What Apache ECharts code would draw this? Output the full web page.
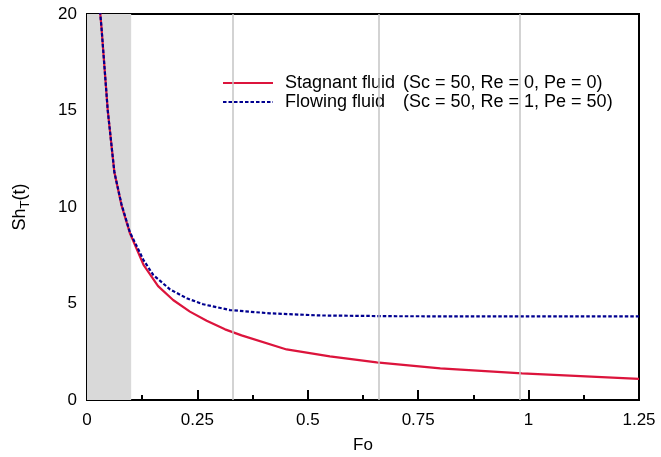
<!DOCTYPE html>
<html>
<head>
<meta charset="utf-8">
<script src="https://cdn.jsdelivr.net/npm/echarts@6/dist/echarts.min.js"></script>
<style>
  html, body { margin: 0; padding: 0; background: #fff; }
  #chart { width: 661px; height: 457px; }
</style>
</head>
<body>
<div id="chart"></div>
<script>
// Fo values and Sh_T(t)
var stagnantFo = [0.0262, 0.0328, 0.047, 0.062, 0.078, 0.097, 0.128, 0.161, 0.195, 0.233, 0.271, 0.3125, 0.35, 0.452, 0.55, 0.656, 0.80, 0.985, 1.25]
var stagnantSh = [21.0, 19.3, 15.0, 11.8, 10.1, 8.65, 7.0, 5.9, 5.18, 4.58, 4.11, 3.66, 3.35, 2.62, 2.26, 1.95, 1.64, 1.38, 1.09]
var flowingFo = [0.0262, 0.0328, 0.047, 0.062, 0.078, 0.097, 0.128, 0.150, 0.188, 0.226, 0.263, 0.324, 0.414, 0.528, 0.70, 1.0, 1.25]
var flowingSh = [21.0, 19.3, 15.0, 11.8, 10.15, 8.7, 7.25, 6.48, 5.73, 5.27, 4.96, 4.66, 4.49, 4.38, 4.34, 4.33, 4.33]
// shaded band and gray guide lines (Fo)
var bandFo = [0, 0.1]
var guideFo = [0.328, 0.657, 0.985]
var xTicks = ['0', '0.25', '0.5', '0.75', '1', '1.25']

var seriesNames = ['Stagnant fluid', 'Flowing fluid']
var seriesParams = {
  'Stagnant fluid': '(Sc = 50, Re = 0, Pe = 0)',
  'Flowing fluid': '(Sc = 50, Re = 1, Pe = 50)'
}

function zip(xs, ys) {
  var out = []
  xs.forEach(function (x, i) { out.push([x, ys[i]]) })
  return out
}

var font = 'Liberation Sans, Arial, Helvetica, sans-serif'
var myChart = echarts.init(document.getElementById('chart'), null, { renderer: 'canvas' })

var option = {
  animation: false,
  backgroundColor: '#fff',
  textStyle: { fontFamily: font },
  grid: {
    left: 87, right: 22, top: 14, bottom: 57,
    containLabel: false,
    outerBoundsMode: 'none',
    show: true, borderColor: '#000', borderWidth: 2, backgroundColor: 'transparent'
  },
  legend: {
    data: seriesNames,
    orient: 'vertical',
    left: 217,
    top: 69,
    itemWidth: 50,
    itemHeight: 12,
    itemGap: 1,
    itemStyle: { opacity: 0 },
    textStyle: {
      fontFamily: font, fontSize: 18, color: '#000',
      rich: {
        a: { fontFamily: font, fontSize: 18, color: '#000', width: 118, padding: [0, 0, 0, 7] },
        b: { fontFamily: font, fontSize: 18, color: '#000' }
      }
    },
    formatter: function (name) {
      return '{a|' + name + '}{b|' + seriesParams[name] + '}'
    }
  },
  xAxis: {
    type: 'value',
    min: 0, max: 1.25, interval: 0.25,
    name: 'Fo',
    nameLocation: 'middle',
    nameGap: 37,
    nameTextStyle: { fontFamily: font, fontSize: 17, color: '#000' },
    axisLine: { show: true, onZero: false, lineStyle: { color: '#000', width: 2 } },
    axisTick: { show: true, inside: true, length: 10, lineStyle: { color: '#000', width: 2 } },
    minorTick: { show: true, splitNumber: 2, length: 5, lineStyle: { color: '#000', width: 2 } },
    splitLine: { show: false },
    axisLabel: {
      margin: 12, fontFamily: font, fontSize: 17, color: '#000',
      formatter: function (v) { return xTicks[Math.round(v / 0.25)] }
    }
  },
  yAxis: {
    type: 'value',
    min: 0, max: 20, interval: 5,
    name: '{n|Sh}{s|T}{n|(t)}',
    nameLocation: 'middle',
    nameGap: 55,
    nameTextStyle: {
      fontFamily: font, fontSize: 18, color: '#000',
      rich: {
        n: { fontFamily: font, fontSize: 18, color: '#000', lineHeight: 24 },
        s: { fontFamily: font, fontSize: 13, color: '#000', lineHeight: 24, verticalAlign: 'bottom' }
      }
    },
    axisLine: { show: true, onZero: false, lineStyle: { color: '#000', width: 2 } },
    axisTick: { show: true, inside: true, length: 10, lineStyle: { color: '#000', width: 2 } },
    minorTick: { show: true, splitNumber: 2, length: 5, lineStyle: { color: '#000', width: 2 } },
    splitLine: { show: false },
    axisLabel: { margin: 10, fontFamily: font, fontSize: 17, color: '#000' }
  },
  series: [
    {
      name: 'guides',
      type: 'line',
      data: [],
      z: 1,
      silent: true,
      markArea: {
        silent: true,
        itemStyle: { color: '#d9d9d9' },
        data: [[{ xAxis: bandFo[0] }, { xAxis: bandFo[1] }]]
      },
      markLine: {
        silent: true,
        symbol: 'none',
        label: { show: false },
        lineStyle: { color: '#c4c4c4', width: 1.5, type: 'solid' },
        data: guideFo.map(function (f) { return { xAxis: f } })
      }
    },
    {
      name: seriesNames[0],
      type: 'line',
      z: 3,
      symbol: 'none',
      smooth: false,
      color: '#dc143c',
      lineStyle: { color: '#dc143c', width: 2.2 },
      data: zip(stagnantFo, stagnantSh)
    },
    {
      name: seriesNames[1],
      type: 'line',
      z: 4,
      symbol: 'none',
      smooth: false,
      color: '#000090',
      lineStyle: { color: '#000090', width: 2.2, type: [3.5, 2] },
      data: zip(flowingFo, flowingSh)
    }
  ]
}
myChart.setOption(option)
</script>
</body>
</html>
